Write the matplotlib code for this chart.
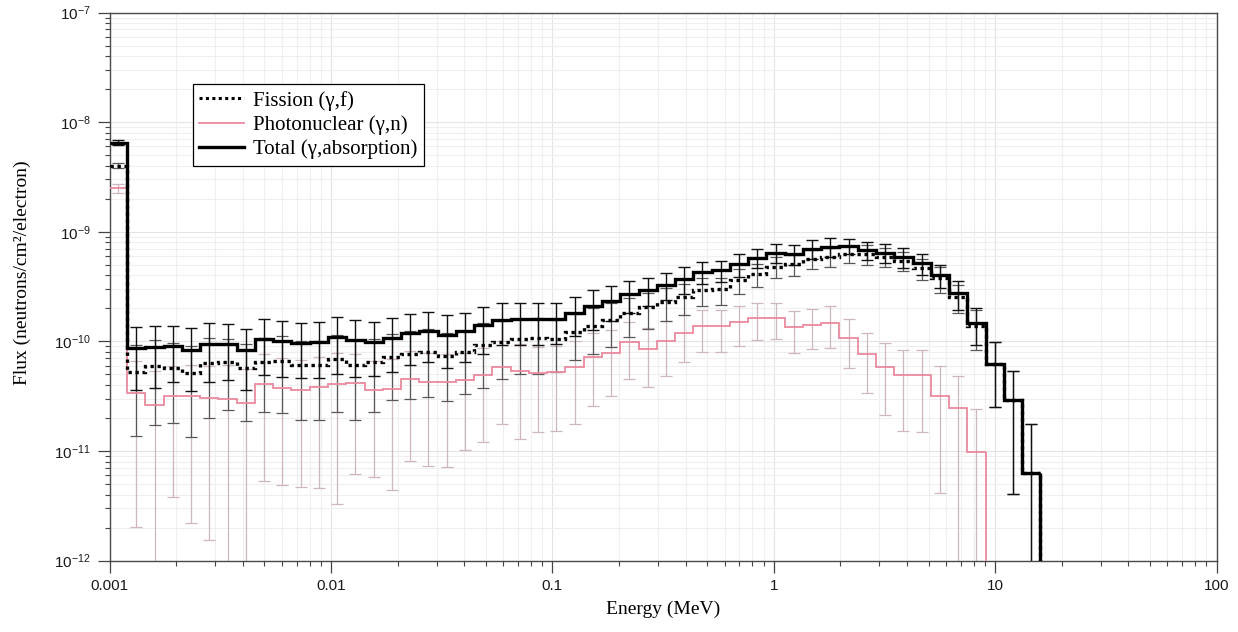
import numpy as np
import matplotlib
matplotlib.use("Agg")
import matplotlib.pyplot as plt
from matplotlib.lines import Line2D
from matplotlib.ticker import FixedLocator, FixedFormatter, LogLocator, NullFormatter

plt.rcParams['font.family'] = ['Liberation Sans', 'DejaVu Sans']
plt.rcParams['mathtext.fontset'] = 'custom'
plt.rcParams['mathtext.rm'] = 'Liberation Sans'
plt.rcParams['mathtext.it'] = 'Liberation Sans:italic'
plt.rcParams['mathtext.bf'] = 'Liberation Sans:bold'
plt.rcParams['mathtext.default'] = 'rm'

# Energy bin edges (MeV); the first bin gathers everything below 1.2 keV
bin_edges = [0.001, 0.0012, 0.001451, 0.001755, 0.002122, 0.002566, 0.003102,
             0.003751, 0.004536, 0.005485, 0.006633, 0.008020, 0.009698,
             0.01173, 0.01418, 0.01715, 0.02073, 0.02507, 0.03032, 0.03666,
             0.04433, 0.05361, 0.06482, 0.07838, 0.09478, 0.1146, 0.1386,
             0.1676, 0.2026, 0.2450, 0.2963, 0.3583, 0.4332, 0.5238, 0.6334,
             0.7660, 0.9262, 1.1199, 1.3542, 1.6375, 1.9801, 2.3943, 2.8952,
             3.5010, 4.2334, 5.1191, 6.1901, 7.4851, 9.0510, 10.945, 13.234,
             16.003]

# Neutron flux per bin (neutrons/cm^2/electron)
total_flux = [6.5e-9,
              8.63e-11, 8.81e-11, 9.06e-11, 8.33e-11, 9.45e-11, 9.45e-11, 8.33e-11,
              1.04e-10, 1.01e-10, 9.6e-11, 9.8e-11, 1.09e-10, 1.02e-10, 9.96e-11,
              1.08e-10, 1.20e-10, 1.24e-10, 1.15e-10, 1.23e-10, 1.42e-10, 1.58e-10,
              1.59e-10, 1.59e-10, 1.59e-10, 1.83e-10, 2.10e-10, 2.35e-10, 2.69e-10,
              2.94e-10, 3.29e-10, 3.72e-10, 4.32e-10, 4.45e-10, 5.07e-10, 5.78e-10,
              6.43e-10, 6.26e-10, 7.00e-10, 7.30e-10, 7.41e-10, 6.81e-10, 6.43e-10,
              5.91e-10, 5.15e-10, 4.03e-10, 2.74e-10, 1.46e-10, 6.17e-11, 2.91e-11,
              6.3e-12]

fission_flux = [4.0e-9,
                5.30e-11, 5.99e-11, 5.74e-11, 5.17e-11, 6.38e-11, 6.42e-11, 5.67e-11,
                6.47e-11, 6.65e-11, 6.04e-11, 6.04e-11, 6.90e-11, 6.12e-11, 6.43e-11,
                7.24e-11, 7.66e-11, 7.99e-11, 7.39e-11, 7.93e-11, 9.19e-11, 9.92e-11,
                1.057e-10, 1.066e-10, 1.05e-10, 1.224e-10, 1.388e-10, 1.564e-10,
                1.80e-10, 2.04e-10, 2.30e-10, 2.55e-10, 2.94e-10, 2.98e-10, 3.62e-10,
                4.11e-10, 4.80e-10, 5.07e-10, 5.67e-10, 5.91e-10, 6.26e-10, 6.26e-10,
                5.91e-10, 5.44e-10, 4.63e-10, 3.76e-10, 2.55e-10, 1.38e-10, 6.17e-11,
                2.91e-11, 6.3e-12]

photo_flux = [2.49e-9,
              3.40e-11, 2.64e-11, 3.19e-11, 3.14e-11, 3.07e-11, 2.96e-11, 2.72e-11,
              4.10e-11, 3.73e-11, 3.62e-11, 3.85e-11, 4.06e-11, 4.14e-11, 3.62e-11,
              3.67e-11, 4.53e-11, 4.27e-11, 4.21e-11, 4.41e-11, 4.98e-11, 5.86e-11,
              5.32e-11, 5.14e-11, 5.28e-11, 5.86e-11, 7.19e-11, 7.87e-11, 9.81e-11,
              8.56e-11, 1.01e-10, 1.19e-10, 1.37e-10, 1.37e-10, 1.50e-10, 1.63e-10,
              1.64e-10, 1.34e-10, 1.41e-10, 1.48e-10, 1.08e-10, 7.66e-11, 5.86e-11,
              4.93e-11, 4.93e-11, 3.19e-11, 2.45e-11, 9.7e-12, 0.0, 0.0, 0.0]

# Relative statistical uncertainty of each bin
total_relerr = [0.05,
                0.58, 0.575, 0.53, 0.58, 0.55, 0.53, 0.57, 0.525, 0.53, 0.52,
                0.53, 0.54, 0.54, 0.515, 0.51, 0.49, 0.48, 0.50, 0.47, 0.46,
                0.42, 0.42, 0.42, 0.41, 0.385, 0.40, 0.35, 0.33, 0.28, 0.28,
                0.27, 0.234, 0.224, 0.234, 0.20, 0.19, 0.21, 0.20, 0.19, 0.16,
                0.19, 0.19, 0.21, 0.21, 0.234, 0.295, 0.37, 0.59, 0.86, 1.78]

fission_relerr = [0.05,
                  0.74, 0.71, 0.69, 0.74, 0.69, 0.63, 0.67, 0.65, 0.665, 0.68,
                  0.68, 0.67, 0.69, 0.65, 0.60, 0.61, 0.61, 0.61, 0.58, 0.59,
                  0.54, 0.52, 0.53, 0.50, 0.45, 0.45, 0.43, 0.39, 0.36, 0.34,
                  0.32, 0.29, 0.28, 0.25, 0.245, 0.22, 0.22, 0.20, 0.19, 0.18,
                  0.20, 0.19, 0.19, 0.21, 0.27, 0.29, 0.39, 0.59, 0.86, 1.78]

photo_relerr = [0.10,
                0.94, 1.05, 0.88, 0.93, 0.95, 1.05, 1.05, 0.87, 0.87, 0.87,
                0.88, 0.92, 0.85, 0.84, 0.88, 0.82, 0.83, 0.83, 0.77, 0.76,
                0.70, 0.76, 0.71, 0.71, 0.70, 0.64, 0.60, 0.54, 0.55, 0.52,
                0.46, 0.42, 0.42, 0.40, 0.37, 0.36, 0.42, 0.40, 0.41, 0.47,
                0.56, 0.64, 0.69, 0.70, 0.87, 0.97, 1.5, 0.0, 0.0, 0.0]

x_tick_values = [0.001, 0.01, 0.1, 1, 10, 100]
x_tick_labels = ['0.001', '0.01', '0.1', '1', '10', '100']
y_tick_values = [1e-12, 1e-11, 1e-10, 1e-9, 1e-8, 1e-7]
y_tick_labels = [r'$10^{-12}$', r'$10^{-11}$', r'$10^{-10}$',
                 r'$10^{-9}$', r'$10^{-8}$', r'$10^{-7}$']

series_labels = ['Fission (\u03b3,f)', 'Photonuclear (\u03b3,n)',
                 'Total (\u03b3,absorption)']

PINK = '#e98a9e'
SERIF = 'Liberation Serif'
DOTTED = (0, (1, 1.1))

edges = np.array(bin_edges)
centers = np.sqrt(edges[:-1] * edges[1:])
floor = 1e-16

fig = plt.figure(figsize=(12.38, 6.32), dpi=100)
ax = fig.add_axes([0.0885, 0.1131, 0.8942, 0.8671])
ax.set_xscale('log')
ax.set_yscale('log')
ax.set_xlim(1e-3, 100)
ax.set_ylim(1e-12, 1e-7)

# light grid on every decade and sub-decade
ax.grid(True, which='major', color='#e4e4e4', lw=0.8, zorder=0)
ax.grid(True, which='minor', color='#efefef', lw=0.8, zorder=0)
ax.set_axisbelow(True)


def draw_errors(flux, relerr, color, lw, z):
    f = np.array(flux)
    r = np.array(relerr)
    ok = f > 0
    err = f[ok] * r[ok]
    ax.errorbar(centers[ok], f[ok], yerr=err, fmt='none', ecolor=color,
                elinewidth=lw, capsize=4.2, capthick=lw, zorder=z)


def draw_steps(flux, color, lw, ls, z):
    f = np.array(flux)
    n = int(np.count_nonzero(f))
    st = ax.stairs(f[:n], edges[:n + 1], baseline=None, color=color, lw=lw,
                   linestyle=ls, zorder=z)
    st.set_joinstyle('miter')
    # closing drop to the bottom of the axes after the last populated bin
    ax.vlines(edges[n], floor, f[n - 1], color=color, lw=lw, linestyles=ls,
              zorder=z)


draw_errors(photo_flux, photo_relerr, '#cfb7bb', 0.9, 2)
draw_errors(fission_flux, fission_relerr, '#585858', 0.9, 2.1)
draw_errors(total_flux, total_relerr, '#111111', 1.0, 2.2)

draw_steps(photo_flux, PINK, 1.3, 'solid', 3)
draw_steps(fission_flux, 'black', 2.4, DOTTED, 3.1)
draw_steps(total_flux, 'black', 2.4, 'solid', 3.2)

# axes styling
ax.xaxis.set_major_locator(FixedLocator(x_tick_values))
ax.xaxis.set_major_formatter(FixedFormatter(x_tick_labels))
ax.xaxis.set_minor_locator(LogLocator(base=10, subs=np.arange(2, 10), numticks=50))
ax.xaxis.set_minor_formatter(NullFormatter())
ax.yaxis.set_major_locator(FixedLocator(y_tick_values))
ax.yaxis.set_major_formatter(FixedFormatter(y_tick_labels))
ax.yaxis.set_minor_locator(LogLocator(base=10, subs=np.arange(2, 10), numticks=50))
ax.yaxis.set_minor_formatter(NullFormatter())

ax.tick_params(which='major', direction='out', length=8.5, width=0.9,
               color='#444444', labelsize=11, labelcolor='#1a1a1a', pad=5)
ax.tick_params(which='minor', direction='out', length=3.8, width=0.8,
               color='#444444')
for side in ('left', 'bottom', 'top', 'right'):
    ax.spines[side].set_color('#4a4a4a')
    ax.spines[side].set_linewidth(1.0)

ax.set_xlabel('Energy (MeV)', fontsize=14, family=SERIF)
ax.set_ylabel('Flux (neutrons/cm\u00b2/electron)', fontsize=14, family=SERIF)
ax.xaxis.set_label_coords(0.5, -0.074)
ax.yaxis.set_label_coords(-0.071, 0.525)

handles = [Line2D([], [], color='black', lw=2.2, linestyle=DOTTED),
           Line2D([], [], color=PINK, lw=1.3),
           Line2D([], [], color='black', lw=2.4)]
leg = ax.legend(handles, series_labels, loc='upper left',
                bbox_to_anchor=(0.0752, 0.8695), borderaxespad=0,
                prop={'family': SERIF, 'size': 15}, frameon=True,
                fancybox=False, edgecolor='black', framealpha=1,
                handlelength=2.15, handletextpad=0.4, labelspacing=0.22,
                borderpad=0.32)
leg.get_frame().set_linewidth(0.9)
leg.set_zorder(5)

fig.savefig('out.png', dpi=100)
